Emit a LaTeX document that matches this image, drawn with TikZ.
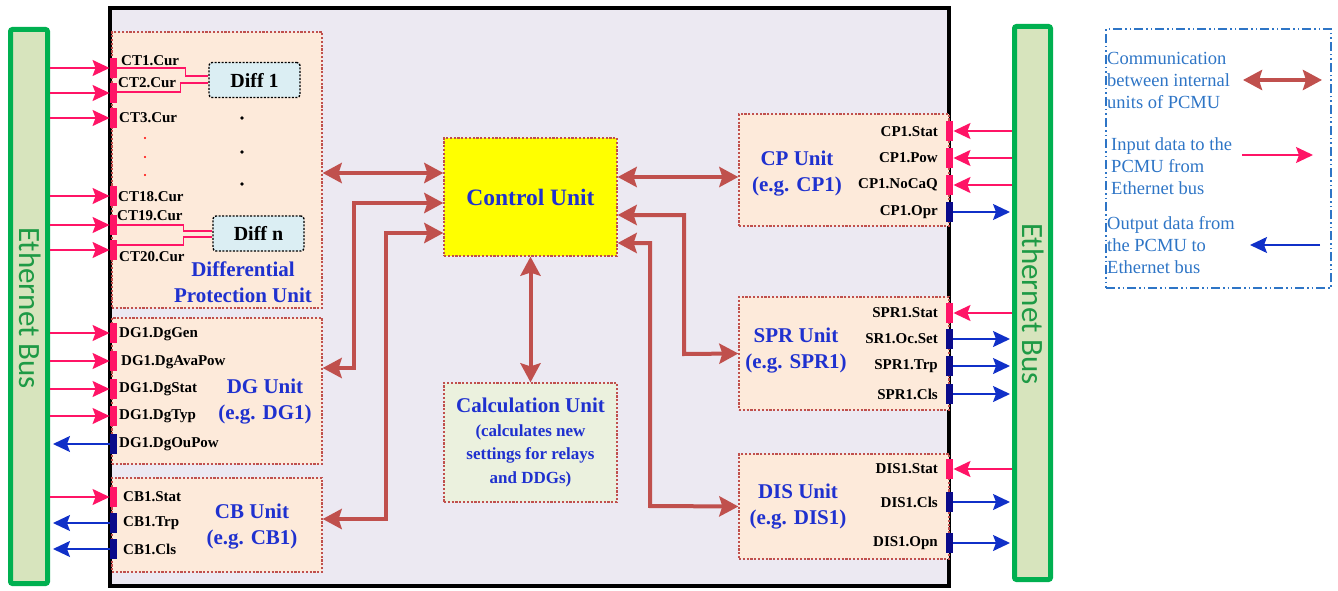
\documentclass[tikz,border=0pt]{standalone}
\usepackage{fontspec}
\setmainfont{Liberation Serif}
\newfontfamily\busfont{Carlito}
\usepackage{tikz}
\usetikzlibrary{arrows.meta,positioning,calc}
\definecolor{brick}{HTML}{C0504D}
\definecolor{sigpink}{HTML}{FF1466}
\definecolor{sigblue}{HTML}{1030C8}
\definecolor{portnavy}{HTML}{0A0A8A}
\definecolor{unitblue}{HTML}{1F31CF}
\definecolor{peach}{HTML}{FDEADA}
\definecolor{lavbg}{HTML}{ECE9F2}
\definecolor{busgreen}{HTML}{00B050}
\definecolor{busfill}{HTML}{D7E4BD}
\definecolor{bustext}{HTML}{1E9A45}
\definecolor{diffbg}{HTML}{DBEEF3}
\definecolor{calcbg}{HTML}{EBF1DE}
\definecolor{ctrlbg}{HTML}{FFFF00}
\definecolor{legblue}{HTML}{2E75C6}
\tikzset{
  >=Stealth,
  pcmu/.style={draw=black,line width=4pt,fill=lavbg,minimum width=839pt,minimum height=578pt},
  unit/.style={draw=brick,fill=peach,line width=1.3pt,dash pattern=on 2.2pt off 1.6pt,inner sep=0pt,minimum width=210pt},
  ctrl/.style={unit,fill=ctrlbg,minimum width=173pt},
  bus/.style={draw=busgreen,fill=busfill,line width=5pt,rounded corners=2pt},
  busname/.style={rotate=-90,text=bustext,font=\busfont\fontsize{31}{32}\selectfont},
  port/.style={fill=sigpink,minimum width=7.5pt,minimum height=20pt,inner sep=0pt},
  oport/.style={port,fill=portnavy},
  sig/.style={font=\fontsize{15}{17}\selectfont\bfseries,inner sep=1pt},
  uname/.style={text=unitblue,font=\fontsize{21}{26}\selectfont\bfseries,align=center},
  diff/.style={draw=black,fill=diffbg,line width=1.4pt,dash pattern=on 2pt off 1.5pt,rounded corners=3pt,minimum width=91pt,minimum height=35pt,font=\fontsize{20}{22}\selectfont\bfseries},
  inarr/.style={-{Stealth[length=17pt,width=16pt,inset=3pt]},line width=1.6pt,draw=sigpink},
  outarr/.style={-{Stealth[length=17pt,width=16pt,inset=3pt]},line width=1.6pt,draw=sigblue},
  link/.style={{Stealth[length=19pt,width=20pt,inset=3pt]}-{Stealth[length=19pt,width=20pt,inset=3pt]},line width=4pt,draw=brick},
  ctline/.style={draw=sigpink,line width=1.6pt},
  legtext/.style={text=legblue,font=\fontsize{18.5}{22}\selectfont,align=left,anchor=west,inner sep=1pt},
  legbox/.style={draw=legblue,line width=2pt,dash pattern=on 9pt off 3pt on 1.5pt off 3pt on 1.5pt off 3pt}
}
\begin{document}
\begin{tikzpicture}[x=1pt,y=-1pt]
  \useasboundingbox (0,0) rectangle (1338,591);
  \node[pcmu] (box) at (529.5,297) {};
  \node[bus,minimum width=37pt,minimum height=554pt] (lbus) at (29,306.5) {};
  \node[busname] (lbust) at (30,308) {Ethernet Bus};
  \node[bus,minimum width=36pt,minimum height=553pt] (rbus) at (1032.5,303) {};
  \node[busname] (rbust) at (1033,304) {Ethernet Bus};

  \node[unit,minimum height=276pt] (dpu) at (217,170) {};
  \node[unit,minimum height=146pt] (dg) at (217,391) {};
  \node[unit,minimum height=94pt] (cb) at (217,525) {};
  \node[unit,minimum height=112pt] (cp) at (844,170) {};
  \node[unit,minimum height=113pt] (spr) at (844,353.5) {};
  \node[unit,minimum height=105pt] (dis) at (844,506.5) {};
  \node[ctrl,minimum height=118pt,uname,font=\fontsize{23.5}{26}\selectfont\bfseries] (cu) at (530.5,197) {Control Unit};
  \node[unit,fill=calcbg,minimum width=173pt,minimum height=119pt,uname,font=\fontsize{17}{23.5}\selectfont\bfseries] (calc) at (530.5,442.5) {{\fontsize{21}{23.5}\selectfont Calculation Unit}\\(calculates new\\settings for relays\\and DDGs)};

  \node[uname] (dput) at (243,282.5) {Differential\\Protection Unit};
  \node[uname] (dgt) at (265,402) {DG Unit\\(e.g. DG1)};
  \node[uname] (cbt) at (252,526.5) {CB Unit\\(e.g. CB1)};
  \node[uname] (cpt) at (797,173.5) {CP Unit\\(e.g. CP1)};
  \node[uname] (sprt) at (796,350.5) {SPR Unit\\(e.g. SPR1)};
  \node[uname] (dist) at (798,506.5) {DIS Unit\\(e.g. DIS1)};

  \node[diff] (diff1) at (254.5,80) {Diff 1};
  \node[diff] (diffn) at (258.5,233.5) {Diff n};
  \fill[red] (145,138) circle (1.2) (145,157) circle (1.2) (145,175) circle (1.2);
  \fill[black] (242,118) circle (1.8) (242,152) circle (1.8) (242,184) circle (1.8);

  \node[port] (ct1) at (113.5,68) {};
  \node[port] (ct2) at (113.5,93) {};
  \node[port] (ct3) at (113.5,118) {};
  \node[port] (ct18) at (113.5,196) {};
  \node[port] (ct19) at (113.5,225) {};
  \node[port] (ct20) at (113.5,250) {};
  \node[sig,anchor=west] (ct1t) at (120,61) {CT1.Cur};
  \node[sig,anchor=west] (ct2t) at (117,83) {CT2.Cur};
  \node[sig,anchor=west] (ct3t) at (118,118) {CT3.Cur};
  \node[sig,anchor=west] (ct18t) at (117,197) {CT18.Cur};
  \node[sig,anchor=west] (ct19t) at (116,216) {CT19.Cur};
  \node[sig,anchor=west] (ct20t) at (118,257) {CT20.Cur};

  \node[port] (dg1) at (113.5,333) {};
  \node[port] (dg2) at (113.5,361) {};
  \node[port] (dg3) at (113.5,389) {};
  \node[port] (dg4) at (113.5,416) {};
  \node[oport] (dg5) at (113.5,444) {};
  \node[sig,anchor=west] (dg1t) at (118,334) {DG1.DgGen};
  \node[sig,anchor=west] (dg2t) at (120,362) {DG1.DgAvaPow};
  \node[sig,anchor=west] (dg3t) at (118,389) {DG1.DgStat};
  \node[sig,anchor=west] (dg4t) at (118,416) {DG1.DgTyp};
  \node[sig,anchor=west] (dg5t) at (118,444) {DG1.DgOuPow};

  \node[port] (cb1) at (113.5,497) {};
  \node[oport] (cb2) at (113.5,523) {};
  \node[oport] (cb3) at (113.5,549) {};
  \node[sig,anchor=west] (cb1t) at (122,497) {CB1.Stat};
  \node[sig,anchor=west] (cb2t) at (122,523) {CB1.Trp};
  \node[sig,anchor=west] (cb3t) at (122,549) {CB1.Cls};

  \node[port] (cp1) at (949.5,131) {};
  \node[port] (cp2) at (949.5,158) {};
  \node[port] (cp3) at (949.5,185) {};
  \node[oport] (cp4) at (949.5,212) {};
  \node[sig,anchor=east] (cp1t) at (939,132) {CP1.Stat};
  \node[sig,anchor=east] (cp2t) at (939,158) {CP1.Pow};
  \node[sig,anchor=east] (cp3t) at (939,185) {CP1.NoCaQ};
  \node[sig,anchor=east] (cp4t) at (939,212) {CP1.Opr};

  \node[port] (spr1) at (949.5,313) {};
  \node[oport] (spr2) at (949.5,339) {};
  \node[oport] (spr3) at (949.5,366) {};
  \node[oport] (spr4) at (949.5,394) {};
  \node[sig,anchor=east] (spr1t) at (939,313) {SPR1.Stat};
  \node[sig,anchor=east] (spr2t) at (939,339) {SR1.Oc.Set};
  \node[sig,anchor=east] (spr3t) at (939,366) {SPR1.Trp};
  \node[sig,anchor=east] (spr4t) at (939,394) {SPR1.Cls};

  \node[port] (dis1) at (949.5,469) {};
  \node[oport] (dis2) at (949.5,502) {};
  \node[oport] (dis3) at (949.5,543) {};
  \node[sig,anchor=east] (dis1t) at (939,469) {DIS1.Stat};
  \node[sig,anchor=east] (dis2t) at (939,502) {DIS1.Cls};
  \node[sig,anchor=east] (dis3t) at (939,543) {DIS1.Opn};

  \draw[ctline] (ct1.east) -- ++(68,0) |- ([yshift=4pt]diff1.west);
  \draw[ctline] ([yshift=1pt]ct2.east) -- ++(63,0) |- ([yshift=-3pt]diff1.west);
  \draw[ctline] (ct19.east) -- ++(66,0) |- ([yshift=2.5pt]diffn.west);
  \draw[ctline] ([yshift=5pt]ct20.east) -- ++(66,0) |- ([yshift=-3.5pt]diffn.west);

  \draw[inarr] (lbus.east |- ct1) -- (ct1.west);
  \draw[inarr] (lbus.east |- ct2) -- (ct2.west);
  \draw[inarr] (lbus.east |- ct3) -- (ct3.west);
  \draw[inarr] (lbus.east |- ct18) -- (ct18.west);
  \draw[inarr] (lbus.east |- ct19) -- (ct19.west);
  \draw[inarr] (lbus.east |- ct20) -- (ct20.west);
  \draw[inarr] (lbus.east |- dg1) -- (dg1.west);
  \draw[inarr] (lbus.east |- dg2) -- (dg2.west);
  \draw[inarr] (lbus.east |- dg3) -- (dg3.west);
  \draw[inarr] (lbus.east |- dg4) -- (dg4.west);
  \draw[outarr,shorten >=3pt] (dg5.west) -- (lbus.east |- dg5);
  \draw[inarr] (lbus.east |- cb1) -- (cb1.west);
  \draw[outarr,shorten >=3pt] (cb2.west) -- (lbus.east |- cb2);
  \draw[outarr,shorten >=3pt] (cb3.west) -- (lbus.east |- cb3);

  \draw[inarr] (rbus.west |- cp1) -- (cp1.east);
  \draw[inarr] (rbus.west |- cp2) -- (cp2.east);
  \draw[inarr] (rbus.west |- cp3) -- (cp3.east);
  \draw[outarr,shorten >=2pt] (cp4.east) -- (rbus.west |- cp4);
  \draw[inarr] (rbus.west |- spr1) -- (spr1.east);
  \draw[outarr,shorten >=2pt] (spr2.east) -- (rbus.west |- spr2);
  \draw[outarr,shorten >=2pt] (spr3.east) -- (rbus.west |- spr3);
  \draw[outarr,shorten >=2pt] (spr4.east) -- (rbus.west |- spr4);
  \draw[inarr] (rbus.west |- dis1) -- (dis1.east);
  \draw[outarr,shorten >=2pt] (dis2.east) -- (rbus.west |- dis2);
  \draw[outarr,shorten >=2pt] (dis3.east) -- (rbus.west |- dis3);

  \draw[link] ([yshift=24pt]cu.west -| dpu.east) -- ([yshift=24pt]cu.west);
  \draw[link] ([yshift=23pt]dg.east) -| (354,203) -- ([yshift=-6pt]cu.west);
  \draw[link] ([yshift=6pt]cb.east) -| (386,233) -- ([yshift=-36pt]cu.west);
  \draw[link] (cu) -- (calc);
  \draw[link] ([yshift=20pt]cu.east) -- ([yshift=20pt]cu.east -| cp.west);
  \draw[link] ([yshift=-18pt]cu.east) -| (684,354) -- (spr.west);
  \draw[link] ([yshift=-46pt]cu.east) -| (650,506) -- (dis.west);

  \node[legbox,minimum width=225pt,minimum height=259pt] (leg) at (1218.5,158.5) {};
  \node[legtext] (legcom) at (1106,80) {Communication\\between internal\\units of PCMU};
  \node[legtext] (legin) at (1110,166) {Input data to the\\PCMU from\\Ethernet bus};
  \node[legtext] (legout) at (1106,245) {Output data from\\the PCMU to\\Ethernet bus};
  \coordinate (legca) at (1243,80);
  \coordinate (legcb) at (1322,80);
  \coordinate (legia) at (1242,155);
  \coordinate (legib) at (1313,155);
  \coordinate (legoa) at (1320,245);
  \coordinate (legob) at (1250,245);
  \draw[link] (legca) -- (legcb);
  \draw[inarr] (legia) -- (legib);
  \draw[outarr] (legoa) -- (legob);
\end{tikzpicture}
\end{document}
